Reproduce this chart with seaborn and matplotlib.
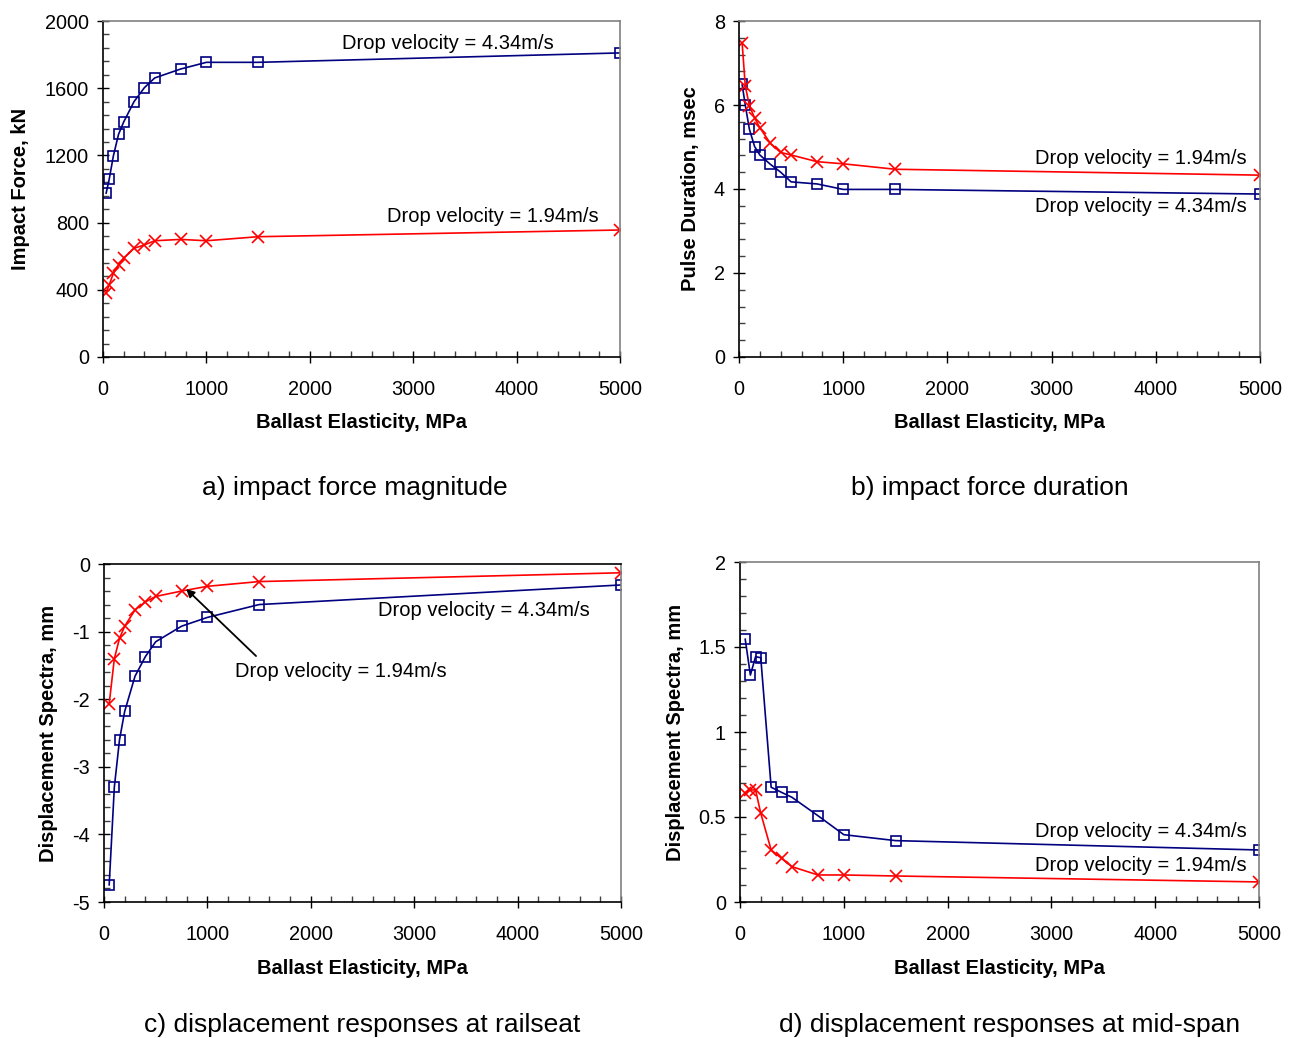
import matplotlib
matplotlib.use("Agg")
import matplotlib.pyplot as plt
from matplotlib.ticker import MultipleLocator, AutoMinorLocator
import seaborn as sns
import pandas as pd

sns.set_theme(style="white")
plt.rcParams['font.family'] = ['Liberation Sans', 'DejaVu Sans']
plt.rcParams['axes.unicode_minus'] = False
plt.rcParams['text.color'] = 'black'
plt.rcParams['axes.labelcolor'] = 'black'
plt.rcParams['xtick.color'] = 'black'
plt.rcParams['ytick.color'] = 'black'

# ---- data ----
x_ab = [30, 60, 100, 150, 200, 300, 400, 500, 750, 1000, 1500, 5000]
force_434 = [974, 1058, 1196, 1325, 1399, 1520, 1603, 1661, 1714, 1754, 1754, 1810]
force_194 = [383, 429, 498, 548, 588, 647, 667, 692, 700, 692, 716, 756]
dur_194 = [7.48, 6.46, 5.98, 5.69, 5.46, 5.09, 4.87, 4.81, 4.65, 4.60, 4.47, 4.33]
dur_434 = [6.49, 6.00, 5.42, 5.01, 4.81, 4.59, 4.40, 4.17, 4.12, 3.99, 3.99, 3.88]

x_cd = [50, 100, 150, 200, 300, 400, 500, 750, 1000, 1500, 5000]
rail_434 = [-4.75, -3.30, -2.60, -2.18, -1.66, -1.37, -1.15, -0.92, -0.79, -0.60, -0.31]
rail_194 = [-2.07, -1.40, -1.10, -0.92, -0.68, -0.56, -0.48, -0.40, -0.33, -0.26, -0.13]
mid_434 = [1.547, 1.335, 1.443, 1.437, 0.675, 0.645, 0.616, 0.508, 0.396, 0.361, 0.306]
mid_194 = [0.643, 0.659, 0.659, 0.522, 0.306, 0.257, 0.208, 0.159, 0.159, 0.153, 0.118]

BLUE = '#000080'
RED = '#ff0000'

fig = plt.figure(figsize=(12.92, 10.38), dpi=100)
W, H = 1292, 1038

def make_ax(l, r, t, b):
    return fig.add_axes([l / W, 1 - b / H, (r - l) / W, (b - t) / H])

ax_a = make_ax(103, 620, 21, 357)
ax_b = make_ax(739, 1260, 21, 357)
ax_c = make_ax(104, 621, 564, 902)
ax_d = make_ax(740, 1259, 562, 902)

def draw(ax, x, y434, y194):
    df1 = pd.DataFrame({'x': x, 'y': y434})
    df2 = pd.DataFrame({'x': x, 'y': y194})
    sns.lineplot(data=df1, x='x', y='y', ax=ax, color=BLUE, lw=1.2, sort=False,
                 marker='s', markersize=7, markerfacecolor='none',
                 markeredgecolor=BLUE, markeredgewidth=1.2)
    sns.lineplot(data=df2, x='x', y='y', ax=ax, color=RED, lw=1.2, sort=False,
                 marker='x', markersize=8, markeredgecolor=RED, markeredgewidth=1.2)

draw(ax_a, x_ab, force_434, force_194)
draw(ax_b, x_ab, dur_434, dur_194)
draw(ax_c, x_cd, rail_434, rail_194)
draw(ax_d, x_cd, mid_434, mid_194)

def style(ax, ylim, ymajor, ylabel, ylab_x):
    ax.set_xlim(0, 5000)
    ax.set_ylim(*ylim)
    ax.xaxis.set_major_locator(MultipleLocator(1000))
    ax.xaxis.set_minor_locator(MultipleLocator(200))
    ax.yaxis.set_major_locator(MultipleLocator(ymajor))
    ax.yaxis.set_minor_locator(AutoMinorLocator(5))
    ax.tick_params(which='major', direction='inout', length=8, width=1, color='black',
                   labelsize=14.3, bottom=True, left=True)
    ax.tick_params(which='minor', direction='in', length=4, width=1, color='#404040',
                   bottom=True, left=True)
    ax.tick_params(axis='x', which='major', pad=12.5)
    ax.tick_params(axis='y', which='major', pad=6)
    for s in ['left', 'bottom']:
        ax.spines[s].set_color('black')
        ax.spines[s].set_linewidth(1.2)
    for s in ['top', 'right']:
        ax.spines[s].set_color('#808080')
        ax.spines[s].set_linewidth(1.2)
    ax.set_xlabel('Ballast Elasticity, MPa', fontsize=14.5, fontweight='bold', va='center')
    ax.xaxis.set_label_coords(0.5, -0.196)
    ax.set_ylabel(ylabel, fontsize=14.5, fontweight='bold', va='center')
    ax.yaxis.set_label_coords(ylab_x, 0.5)
    ax.grid(False)

style(ax_a, (0, 2000), 400, 'Impact Force, kN', -0.1605)
style(ax_b, (0, 8), 2, 'Pulse Duration, msec', -0.094)
style(ax_c, (-5, 0), 1, 'Displacement Spectra, mm', -0.108)
style(ax_d, (0, 2), 0.5, 'Displacement Spectra, mm', -0.125)
ax_d.set_yticks([0, 0.5, 1, 1.5, 2])
ax_d.set_yticklabels(['0', '0.5', '1', '1.5', '2'])
ax_c.spines['top'].set_color('black')

fs = 14.5
ax_a.text(0.667, 0.932, 'Drop velocity = 4.34m/s', transform=ax_a.transAxes, ha='center', va='center', fontsize=fs)
ax_a.text(0.754, 0.417, 'Drop velocity = 1.94m/s', transform=ax_a.transAxes, ha='center', va='center', fontsize=fs)
ax_b.text(0.975, 0.592, 'Drop velocity = 1.94m/s', transform=ax_b.transAxes, ha='right', va='center', fontsize=fs)
ax_b.text(0.975, 0.449, 'Drop velocity = 4.34m/s', transform=ax_b.transAxes, ha='right', va='center', fontsize=fs)
ax_c.text(0.735, 0.861, 'Drop velocity = 4.34m/s', transform=ax_c.transAxes, ha='center', va='center', fontsize=fs)
ax_c.text(0.458, 0.683, 'Drop velocity = 1.94m/s', transform=ax_c.transAxes, ha='center', va='center', fontsize=fs)
ax_c.annotate('', xy=(0.155, 0.932), xytext=(0.298, 0.722), xycoords='axes fraction',
              textcoords='axes fraction',
              arrowprops=dict(arrowstyle='-|>', color='black', lw=1.3, mutation_scale=12))
ax_d.text(0.977, 0.206, 'Drop velocity = 4.34m/s', transform=ax_d.transAxes, ha='right', va='center', fontsize=fs)
ax_d.text(0.977, 0.106, 'Drop velocity = 1.94m/s', transform=ax_d.transAxes, ha='right', va='center', fontsize=fs)

cfs = 19
fig.text(355 / W, 1 - 488 / H, 'a) impact force magnitude', ha='center', va='center', fontsize=cfs)
fig.text(990 / W, 1 - 488 / H, 'b) impact force duration', ha='center', va='center', fontsize=cfs)
fig.text(362 / W, 1 - 1025 / H, 'c) displacement responses at railseat', ha='center', va='center', fontsize=cfs)
fig.text(1010 / W, 1 - 1025 / H, 'd) displacement responses at mid-span', ha='center', va='center', fontsize=cfs)

fig.savefig('out.png', dpi=100, facecolor='white')
